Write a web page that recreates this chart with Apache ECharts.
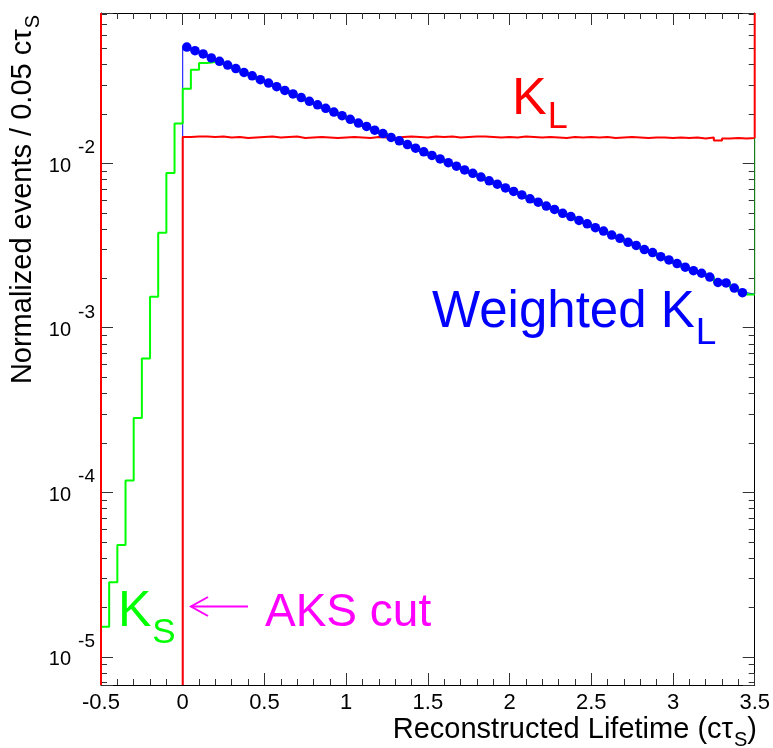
<!DOCTYPE html>
<html>
<head>
<meta charset="utf-8">
<script src="https://cdn.jsdelivr.net/npm/echarts@6/dist/echarts.min.js"></script>
<style>
  html, body { margin: 0; padding: 0; background: #ffffff; }
  #chart { width: 773px; height: 748px; }
</style>
</head>
<body>
<div id="chart"></div>
<script>
// Axis ranges and binning (0.05 c tau_S per bin)
const X_MIN = -0.5, X_MAX = 3.5, BIN = 0.05;
const Y_MIN = 6.74e-6, Y_MAX = 0.0816;
const xTickLabels = ['-0.5', '0', '0.5', '1', '1.5', '2', '2.5', '3', '3.5'];

// K_S reconstructed lifetime, bins starting at -0.5
const ksStart = -0.5;
const ksValues = [
  1.52e-5, 2.84e-5, 4.78e-5, 1.18e-4, 2.82e-4, 6.49e-4, 1.54e-3, 3.77e-3, 8.70e-3, 1.74e-2,
  0.02830, 0.03690, 0.04060, 0.04110, 0.04140, 0.03940, 0.03750, 0.03550, 0.03390, 0.03210,
  0.03060, 0.02910, 0.02760, 0.02630, 0.02500, 0.02370, 0.02260, 0.02150, 0.02040, 0.01940,
  0.01845, 0.01750, 0.01670, 0.01585, 0.01510, 0.01430, 0.01365, 0.01295, 0.01232, 0.01170,
  0.01113, 0.01060, 0.01005, 0.00957, 0.00908, 0.00866, 0.00822, 0.00780, 0.00744, 0.00706,
  0.00672, 0.00640, 0.00606, 0.00578, 0.00548, 0.00523, 0.00495, 0.00473, 0.00448, 0.00427,
  0.00405, 0.00386, 0.00365, 0.00349, 0.00330, 0.00316, 0.00298, 0.00286, 0.00270, 0.00258,
  0.00245, 0.00233, 0.00222, 0.00214, 0.00203, 0.00190, 0.00187, 0.00175, 0.00164, 0.00159
];

// K_L reconstructed lifetime, bins starting at 0 (AKS cut)
const klStart = 0;
const klValues = [
  0.0144, 0.0145, 0.0145, 0.0144, 0.0145, 0.0143, 0.0144, 0.0142, 0.0143, 0.0144,
  0.0145, 0.0143, 0.0144, 0.0145, 0.0142, 0.0143, 0.0144, 0.0143, 0.0142, 0.0143,
  0.0144, 0.0143, 0.0142, 0.0144, 0.0143, 0.0142, 0.0144, 0.0145, 0.0144, 0.0143,
  0.0145, 0.0144, 0.0145, 0.0143, 0.0144, 0.0145, 0.0145, 0.0144, 0.0143, 0.0144,
  0.0143, 0.0145, 0.0144, 0.0143, 0.0144, 0.0143, 0.0142, 0.0144, 0.0143, 0.0144,
  0.0143, 0.0144, 0.0142, 0.0143, 0.0144, 0.0143, 0.0142, 0.0143, 0.0143, 0.0142,
  0.0143, 0.0142, 0.0143, 0.0141, 0.0143, 0.0137, 0.0141, 0.0142, 0.0141, 0.0142
];

// Weighted K_L, bins starting at 0
const wklStart = 0;
const wklValues = [
  0.05070, 0.04820, 0.04600, 0.04350, 0.04150, 0.03940, 0.03750, 0.03550, 0.03390, 0.03210,
  0.03060, 0.02910, 0.02760, 0.02630, 0.02500, 0.02370, 0.02260, 0.02150, 0.02040, 0.01940,
  0.01845, 0.01750, 0.01670, 0.01585, 0.01510, 0.01430, 0.01365, 0.01295, 0.01232, 0.01170,
  0.01113, 0.01060, 0.01005, 0.00957, 0.00908, 0.00866, 0.00822, 0.00780, 0.00744, 0.00706,
  0.00672, 0.00640, 0.00606, 0.00578, 0.00548, 0.00523, 0.00495, 0.00473, 0.00448, 0.00427,
  0.00405, 0.00386, 0.00365, 0.00349, 0.00330, 0.00316, 0.00298, 0.00286, 0.00270, 0.00258,
  0.00245, 0.00233, 0.00222, 0.00214, 0.00203, 0.00188, 0.00187, 0.00174, 0.00163, 0.00160
];

const FONT = "'Liberation Sans', Arial, Helvetica, sans-serif";
const edge = (start, i) => +(start + i * BIN).toFixed(4);

// Histogram outline: two corners per bin
function histPoints(start, values) {
  const pts = [];
  values.forEach((v, i) => {
    pts.push([edge(start, i), v]);
    pts.push([edge(start, i + 1), v]);
  });
  return pts;
}

const ksLine = [[ksStart, Y_MIN]].concat(histPoints(ksStart, ksValues));
const klLine = [[klStart, Y_MIN]].concat(histPoints(klStart, klValues), [[X_MAX, Y_MAX]]);
const wklLine = [[wklStart, Y_MIN]].concat(histPoints(wklStart, wklValues));
const wklDots = wklValues.slice(0, -1).map((v, i) => [+(wklStart + (i + 0.5) * BIN).toFixed(4), v]);

// Minor ticks of the log axis: 2..9 x 10^n inside the range
const yMinor = [];
for (let n = -6; n <= -1; n++) {
  for (let k = 2; k <= 9; k++) {
    const v = k * Math.pow(10, n);
    if (v > Y_MIN && v < Y_MAX) yMinor.push([X_MIN, v]);
  }
}

const tickColor = '#333333';

const xAxisBase = {
  type: 'value', min: X_MIN, max: X_MAX, interval: 0.5,
  axisLine: { show: true, onZero: false, lineStyle: { color: '#000', width: 1 } },
  axisTick: { show: true, inside: true, length: 12, lineStyle: { color: tickColor, width: 1 } },
  minorTick: { show: true, splitNumber: 5, length: 6, lineStyle: { color: tickColor, width: 1 } },
  splitLine: { show: false }, minorSplitLine: { show: false }
};

const yAxisBase = {
  type: 'log', logBase: 10, min: Y_MIN, max: Y_MAX,
  axisLine: { show: true, onZero: false, lineStyle: { color: '#000', width: 1 } },
  axisTick: { show: true, inside: true, length: 12, lineStyle: { color: tickColor, width: 1 } },
  minorTick: { show: false },
  splitLine: { show: false }
};

const chart = echarts.init(document.getElementById('chart'), null, { renderer: 'canvas' });

chart.setOption({
  animation: false,
  backgroundColor: '#ffffff',
  grid: { left: 101, right: 16, top: 13, bottom: 63, containLabel: false },
  xAxis: [
    Object.assign({}, xAxisBase, {
      position: 'bottom',
      axisLabel: {
        show: true, fontSize: 22, fontFamily: FONT, color: '#000', margin: 7,
        formatter: v => xTickLabels[Math.round((v - X_MIN) / 0.5)] || ''
      }
    }),
    Object.assign({}, xAxisBase, { position: 'top', axisLabel: { show: false } })
  ],
  yAxis: [
    Object.assign({}, yAxisBase, {
      position: 'left',
      axisLabel: {
        show: true, margin: 6, color: '#000', fontFamily: FONT,
        formatter: v => {
          const e = Math.log10(v), r = Math.round(e);
          if (Math.abs(e - r) > 1e-6) return '';
          return '{b|10}{s|' + r + '}';
        },
        rich: {
          b: { fontSize: 20, lineHeight: 20, padding: [6, 0, 0, 0], color: '#000', fontFamily: FONT },
          s: { fontSize: 19, lineHeight: 19, padding: [0, 0, 30, 7], color: '#000', fontFamily: FONT }
        }
      }
    }),
    Object.assign({}, yAxisBase, { position: 'right', axisLabel: { show: false } })
  ],
  series: [
    {
      name: 'minor ticks', type: 'custom', xAxisIndex: 0, yAxisIndex: 0,
      silent: true, clip: false, z: 1,
      data: yMinor,
      renderItem: (params, api) => {
        const v = api.value(1);
        const p = api.coord([X_MIN, v]);
        const q = api.coord([X_MAX, v]);
        const y = Math.round(p[1]) + 0.5;
        return {
          type: 'group',
          children: [
            { type: 'line', shape: { x1: p[0], y1: y, x2: p[0] + 6, y2: y }, style: { stroke: tickColor, lineWidth: 1 } },
            { type: 'line', shape: { x1: q[0] - 6, y1: y, x2: q[0], y2: y }, style: { stroke: tickColor, lineWidth: 1 } }
          ]
        };
      }
    },
    {
      name: 'Weighted K_L line', type: 'line', data: wklLine, showSymbol: false, symbol: 'none',
      lineStyle: { color: '#0000ff', width: 1 }, z: 2, silent: true
    },
    {
      name: 'K_S', type: 'line', data: ksLine, showSymbol: false, symbol: 'none',
      lineStyle: { color: '#00ff00', width: 2 }, z: 3, silent: true
    },
    {
      name: 'K_L', type: 'line', data: klLine, showSymbol: false, symbol: 'none',
      lineStyle: { color: '#ff0000', width: 2 }, z: 4, silent: true
    },
    {
      name: 'frame left', type: 'line', data: [[X_MIN, Y_MIN], [X_MIN, Y_MAX]],
      showSymbol: false, symbol: 'none', lineStyle: { color: '#ff0000', width: 2 }, z: 5, silent: true
    },
    {
      name: 'frame right', type: 'line',
      data: [[X_MAX, wklValues[wklValues.length - 1]], [X_MAX, klValues[klValues.length - 1]]],
      showSymbol: false, symbol: 'none', lineStyle: { color: '#1f9a1f', width: 1 }, z: 5, silent: true
    },
    {
      name: 'Weighted K_L', type: 'scatter', data: wklDots, symbol: 'circle', symbolSize: 9.5,
      itemStyle: { color: '#0000ff', opacity: 1, borderWidth: 0 }, z: 6, silent: true
    }
  ],
  graphic: [
    {
      type: 'text', x: 24, y: 15, rotation: Math.PI / 2, silent: true,
      style: {
        text: '{a|Normalized events / 0.05 c\u03c4}{s|S}',
        align: 'right', verticalAlign: 'middle', textAlign: 'right', textVerticalAlign: 'middle',
        fill: '#000',
        rich: {
          a: { fontSize: 29, lineHeight: 32, verticalAlign: 'top', fontFamily: FONT, fill: '#000' },
          s: { fontSize: 20, lineHeight: 20, padding: [15, 0, 0, 1], verticalAlign: 'top', fontFamily: FONT, fill: '#000' }
        }
      }
    },
    {
      type: 'text', x: 757, y: 731, silent: true,
      style: {
        text: '{a|Reconstructed Lifetime (c\u03c4}{s|S}{a|)}',
        align: 'right', verticalAlign: 'middle', textAlign: 'right', textVerticalAlign: 'middle',
        fill: '#000',
        rich: {
          a: { fontSize: 29, lineHeight: 32, verticalAlign: 'top', fontFamily: FONT, fill: '#000' },
          s: { fontSize: 20, lineHeight: 20, padding: [15, 0, 0, 1], verticalAlign: 'top', fontFamily: FONT, fill: '#000' }
        }
      }
    },
    {
      type: 'text', x: 512, y: 74, silent: true,
      style: {
        text: '{k|K}{s|L}', align: 'left', verticalAlign: 'top', textAlign: 'left', textVerticalAlign: 'top',
        fill: '#ff0000',
        rich: {
          k: { fontSize: 52, lineHeight: 52, verticalAlign: 'top', fontFamily: FONT, fill: '#ff0000' },
          s: { fontSize: 36, lineHeight: 36, padding: [26, 0, 0, 1], verticalAlign: 'top', fontFamily: FONT, fill: '#ff0000' }
        }
      }
    },
    {
      type: 'text', x: 432, y: 287, silent: true,
      style: {
        text: '{k|Weighted K}{s|L}', align: 'left', verticalAlign: 'top', textAlign: 'left', textVerticalAlign: 'top',
        fill: '#0000ff',
        rich: {
          k: { fontSize: 51, lineHeight: 51, verticalAlign: 'top', fontFamily: FONT, fill: '#0000ff' },
          s: { fontSize: 37, lineHeight: 37, padding: [28, 0, 0, 1], verticalAlign: 'top', fontFamily: FONT, fill: '#0000ff' }
        }
      }
    },
    {
      type: 'text', x: 118, y: 587, silent: true,
      style: {
        text: '{k|K}{s|S}', align: 'left', verticalAlign: 'top', textAlign: 'left', textVerticalAlign: 'top',
        fill: '#00ff00',
        rich: {
          k: { fontSize: 50, lineHeight: 50, verticalAlign: 'top', fontFamily: FONT, fill: '#00ff00' },
          s: { fontSize: 35, lineHeight: 35, padding: [29, 0, 0, 1], verticalAlign: 'top', fontFamily: FONT, fill: '#00ff00' }
        }
      }
    },
    {
      type: 'text', x: 265, y: 613, silent: true,
      style: {
        text: 'AKS cut', align: 'left', verticalAlign: 'middle', textAlign: 'left', textVerticalAlign: 'middle',
        fill: '#ff00ff', fontSize: 46, fontFamily: FONT, font: '46px ' + FONT
      }
    },
    {
      type: 'polyline', silent: true,
      shape: { points: [[248, 606.5], [191, 606.5]] },
      style: { stroke: '#ff00ff', lineWidth: 2, fill: null }
    },
    {
      type: 'polyline', silent: true,
      shape: { points: [[208, 597], [191, 606.5], [208, 616]] },
      style: { stroke: '#ff00ff', lineWidth: 2, fill: null }
    }
  ]
});
</script>
</body>
</html>
